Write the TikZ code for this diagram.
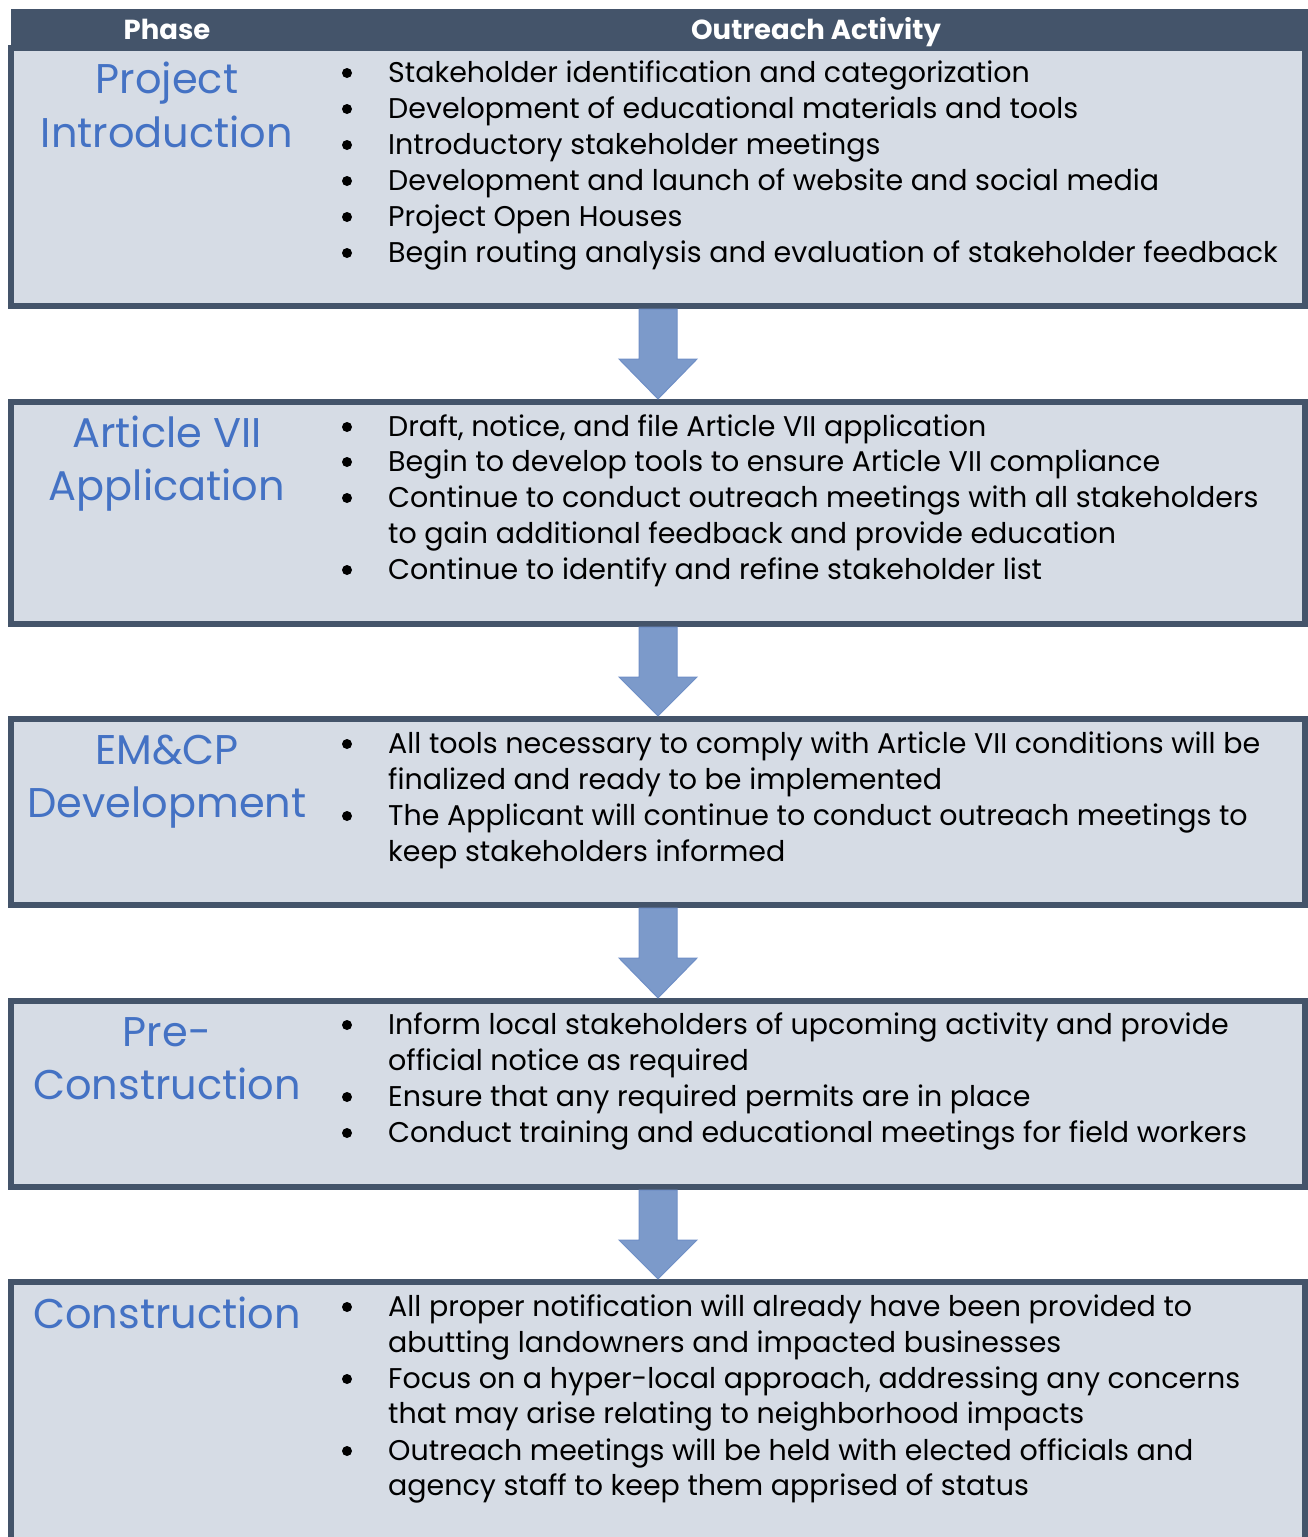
\documentclass[tikz,border=0pt]{standalone}
\usepackage{fontspec}
\setmainfont{Poppins}
\definecolor{hdr}{HTML}{44546A}
\definecolor{boxfill}{HTML}{D6DCE5}
\definecolor{titleblue}{HTML}{4472C4}
\definecolor{arrowfill}{HTML}{7C9ACA}
\definecolor{arrowedge}{HTML}{6F8FC6}
\begin{document}
\begin{tikzpicture}[x=1pt,y=-1pt,
  box/.style={draw=hdr, fill=boxfill, line width=6pt, rectangle, minimum width=1294pt, anchor=north west, inner sep=0pt},
  hdrbar/.style={fill=hdr, rectangle, minimum width=1297pt, minimum height=41pt, anchor=north west, inner sep=0pt},
  hdrtext/.style={text=white, font=\fontsize{27.5}{32}\selectfont\bfseries, anchor=base, inner sep=0pt},
  phase/.style={text=titleblue, font=\fontsize{41.5}{50}\selectfont, anchor=base, inner sep=0pt},
  item/.style={anchor=base west, inner sep=0pt, font=\fontsize{28.5}{34}\selectfont},
  dot/.style={fill=black},
  blockarrow/.style={fill=arrowfill, draw=arrowedge, line width=1pt, line join=miter}]
\useasboundingbox (0,0) rectangle (1308,1537);
% boxes
\node[box, minimum height=258pt] (b1) at (8,45) {};
\node[box, minimum height=222pt] (b2) at (8,399) {};
\node[box, minimum height=186pt] (b3) at (8,716) {};
\node[box, minimum height=186pt] (b4) at (8,998) {};
\node[box, minimum height=270pt] (b5) at (8,1279) {};
% header
\node[hdrbar] (h) at (11,9) {};
\node[hdrtext] (hp) at (167,39) {Phase};
\node[hdrtext] (ho) at (816,39) {Outreach Activity};
% arrows
\foreach \a/\b in {b1/b2,b2/b3,b3/b4,b4/b5}{
  \draw[blockarrow] ([xshift=-19pt]\a.south) -- ([xshift=-19pt,yshift=-50pt]\a.south)
    -- ([xshift=-39pt,yshift=-50pt]\a.south) -- (\b.north)
    -- ([xshift=39pt,yshift=-50pt]\a.south) -- ([xshift=19pt,yshift=-50pt]\a.south)
    -- ([xshift=19pt]\a.south) -- cycle;
}
% phase titles
\node[phase] (t1a) at (167,93) {Project};
\node[phase] (t1b) at (167,147) {Introduction};
\node[phase] (t2a) at (167,447) {Article VII};
\node[phase] (t2b) at (167,500) {Application};
\node[phase] (t3a) at (167,764) {EM\&CP};
\node[phase] (t3b) at (167,817) {Development};
\node[phase] (t4a) at (167,1046) {Pre-};
\node[phase] (t4b) at (167,1099) {Construction};
\node[phase] (t5a) at (167,1328) {Construction};
% box 1 items
\node[item] (l1a) at (388,82) {Stakeholder identification and categorization};
\node[item] (l1b) at (388,118) {Development of educational materials and tools};
\node[item] (l1c) at (388,154) {Introductory stakeholder meetings};
\node[item] (l1d) at (388,190) {Development and launch of website and social media};
\node[item] (l1e) at (388,226) {Project Open Houses};
\node[item] (l1f) at (388,262) {Begin routing analysis and evaluation of stakeholder feedback};
% box 2 items
\node[item] (l2a) at (388,436) {Draft, notice, and file Article VII application};
\node[item] (l2b) at (388,471) {Begin to develop tools to ensure Article VII compliance};
\node[item] (l2c) at (388,507) {Continue to conduct outreach meetings with all stakeholders};
\node[item] (l2d) at (388,543) {to gain additional feedback and provide education};
\node[item] (l2e) at (388,579) {Continue to identify and refine stakeholder list};
% box 3 items
\node[item] (l3a) at (388,753) {All tools necessary to comply with Article VII conditions will be};
\node[item] (l3b) at (388,789) {finalized and ready to be implemented};
\node[item] (l3c) at (388,825) {The Applicant will continue to conduct outreach meetings to};
\node[item] (l3d) at (388,861) {keep stakeholders informed};
% box 4 items
\node[item] (l4a) at (388,1034) {Inform local stakeholders of upcoming activity and provide};
\node[item] (l4b) at (388,1070) {official notice as required};
\node[item] (l4c) at (388,1106) {Ensure that any required permits are in place};
\node[item] (l4d) at (388,1142) {Conduct training and educational meetings for field workers};
% box 5 items
\node[item] (l5a) at (388,1316) {All proper notification will already have been provided to};
\node[item] (l5b) at (388,1352) {abutting landowners and impacted businesses};
\node[item] (l5c) at (388,1388) {Focus on a hyper-local approach, addressing any concerns};
\node[item] (l5d) at (388,1423) {that may arise relating to neighborhood impacts};
\node[item] (l5e) at (388,1460) {Outreach meetings will be held with elected officials and};
\node[item] (l5f) at (388,1495) {agency staff to keep them apprised of status};
% bullets
\foreach \n in {l1a,l1b,l1c,l1d,l1e,l1f,l2a,l2b,l2c,l2e,l3a,l3c,l4a,l4c,l4d,l5a,l5c,l5e}{
  \fill[dot] (\n.base west) ++(-41,-9) circle (5pt);
}
\end{tikzpicture}
\end{document}
